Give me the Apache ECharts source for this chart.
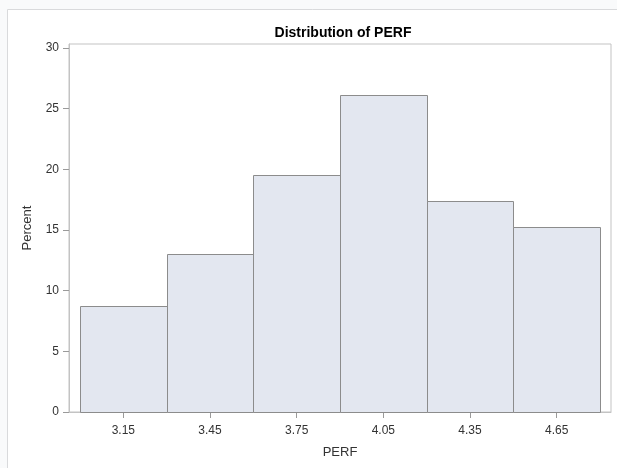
<!DOCTYPE html>
<html>
<head>
<meta charset="utf-8">
<script src="https://cdn.jsdelivr.net/npm/echarts@6/dist/echarts.min.js"></script>
<style>
  html, body { margin: 0; padding: 0; background: #f9fafb; }
  #chart { width: 617px; height: 468px; }
</style>
</head>
<body>
<div id="chart"></div>
<script>
// Histogram of PERF: bin edges, bin midpoints and percent per bin
const binStarts = [3.0, 3.3, 3.6, 3.9, 4.2, 4.5];
const binEnds   = [3.3, 3.6, 3.9, 4.2, 4.5, 4.8];
const binMids   = [3.15, 3.45, 3.75, 4.05, 4.35, 4.65];
const percents  = [8.696, 13.043, 19.565, 26.087, 17.391, 15.217];
const yTicks    = [0, 5, 10, 15, 20, 25, 30];

// axis ranges with a small offset around the bars
const xRange = [2.962, 4.838];
const yRange = [0, 30.33];

const chart = echarts.init(document.getElementById('chart'), null, { renderer: 'canvas' });

const data = binStarts.map((s, i) => [s, binEnds[i], percents[i]]);
const FONT = 'Liberation Sans, Arial, sans-serif';
const labelFont = { fontFamily: FONT, fontSize: 12, color: '#333' };

chart.setOption({
  backgroundColor: '#f9fafb',
  animation: false,
  graphic: [{
    type: 'rect',
    z: -10,
    shape: { x: 7.5, y: 9.5, width: 640, height: 500 },
    style: { fill: '#ffffff', stroke: '#d9dadc', lineWidth: 1 }
  }],
  title: {
    text: 'Distribution of PERF',
    left: 338,
    textAlign: 'center',
    top: 21,
    textStyle: { fontFamily: FONT, fontSize: 14, fontWeight: 'bold', color: '#000' }
  },
  grid: {
    left: 69, right: 6, top: 44, bottom: 56,
    show: true, borderColor: '#c3c3c3', borderWidth: 1, backgroundColor: 'transparent'
  },
  xAxis: {
    type: 'value',
    min: xRange[0], max: xRange[1],
    name: 'PERF', nameLocation: 'middle', nameGap: 34,
    nameTextStyle: { fontFamily: FONT, fontSize: 13, color: '#333' },
    splitLine: { show: false },
    axisLine: { show: true, lineStyle: { color: '#c3c3c3' } },
    axisTick: { show: true, length: 6, customValues: binMids, lineStyle: { color: '#9a9a9a' } },
    axisLabel: Object.assign({ customValues: binMids, margin: 13, formatter: v => v.toFixed(2) }, labelFont)
  },
  yAxis: {
    type: 'value',
    min: yRange[0], max: yRange[1],
    name: 'Percent', nameLocation: 'middle', nameGap: 35, nameRotate: 90,
    nameTextStyle: { fontFamily: FONT, fontSize: 13, color: '#333' },
    splitLine: { show: false },
    axisLine: { show: true, lineStyle: { color: '#c3c3c3' } },
    axisTick: { show: true, length: 6, customValues: yTicks, lineStyle: { color: '#9a9a9a' } },
    axisLabel: Object.assign({ customValues: yTicks, margin: 10 }, labelFont)
  },
  series: [{
    type: 'custom',
    data: data,
    encode: { x: [0, 1], y: 2 },
    renderItem: function (params, api) {
      const p0 = api.coord([api.value(0), api.value(2)]);
      const p1 = api.coord([api.value(1), 0]);
      const x0 = Math.round(p0[0]) + 0.5, x1 = Math.round(p1[0]) + 0.5;
      const y0 = Math.round(p0[1]) + 0.5, y1 = Math.round(p1[1]) + 0.5;
      return {
        type: 'rect',
        shape: { x: x0, y: y0, width: x1 - x0, height: y1 - y0 },
        style: { fill: '#e3e7f0', stroke: '#8c8c8c', lineWidth: 1 }
      };
    }
  }]
});
</script>
</body>
</html>
